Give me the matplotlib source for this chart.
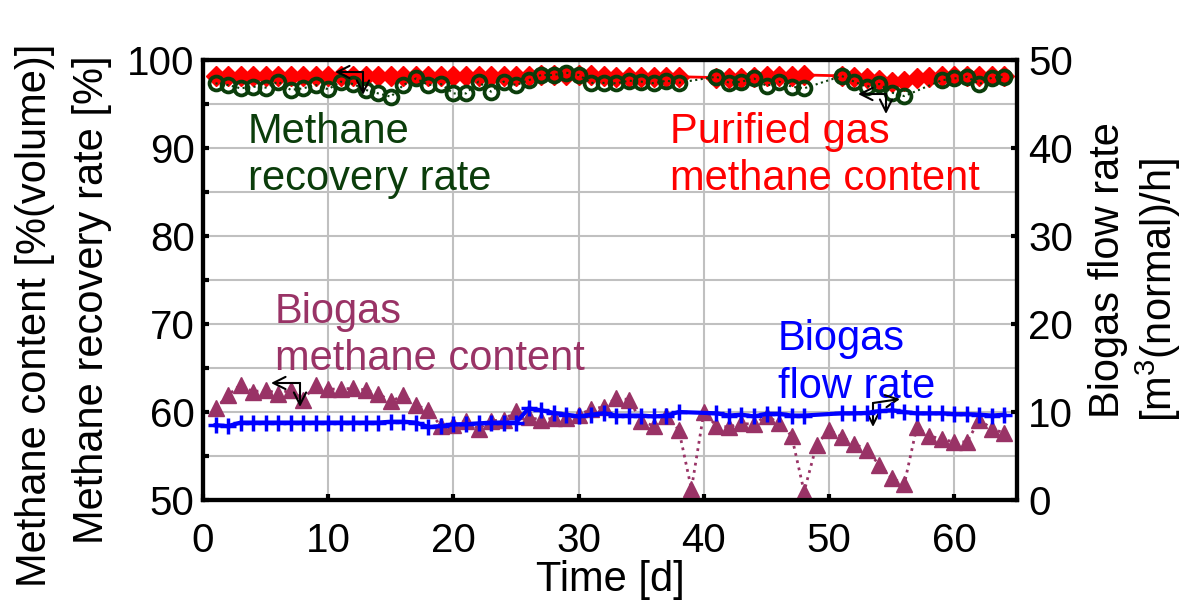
import matplotlib
matplotlib.use("Agg")
import matplotlib.pyplot as plt
from matplotlib.ticker import MultipleLocator
import numpy as np

plt.rcParams['font.family'] = ['Liberation Sans', 'DejaVu Sans']
plt.rcParams['mathtext.fontset'] = 'custom'
plt.rcParams['mathtext.rm'] = 'Liberation Sans'
plt.rcParams['mathtext.it'] = 'Liberation Sans'
plt.rcParams['mathtext.bf'] = 'Liberation Sans'

# ---------------- data ----------------
purified_days = list(range(1, 39)) + list(range(41, 49)) + list(range(51, 65))
purified_ch4 = ([98.2] * 26 + [98.3, 98.3, 98.3, 98.3, 98.3] + [98.2] +
                [98.1] * 6 +
                [98.0, 98.0, 98.0, 98.1, 98.2, 98.2, 98.2, 98.3] +
                [98.2, 98.1, 97.9, 97.7, 97.5, 97.6, 97.9, 98.1, 98.2, 98.2, 98.2, 98.2, 98.2, 98.2])

recovery_days = list(range(1, 39)) + list(range(41, 49)) + list(range(51, 57)) + list(range(59, 65))
recovery_rate = [97.35, 97.16, 96.78, 96.97, 96.86, 97.54, 96.6, 96.78, 97.16, 96.67,
                 97.54, 97.27, 96.6, 96.2, 95.83, 97.16, 97.9, 97.16, 97.27, 96.2,
                 96.2, 97.54, 96.4, 97.54, 97.16, 97.7, 98.3, 98.3, 98.56, 98.3,
                 97.4, 97.4, 97.35, 97.65, 97.54, 97.35, 97.65, 97.42,
                 98.1, 97.42, 97.54, 97.9, 97.05, 97.54, 96.97, 96.78,
                 98.18, 97.54, 96.97, 97.27, 96.3, 95.9,
                 97.7, 97.9, 98.1, 97.27, 98.0, 98.1]

biogas_days = list(range(1, 65))
biogas_ch4 = [60.4, 61.9, 63.1, 62.3, 62.5, 62.1, 62.5, 61.4, 63.1, 62.6,
              62.6, 62.7, 62.5, 62.1, 61.2, 61.9, 60.8, 60.2, 58.4, 58.5,
              59.0, 58.1, 59.0, 59.1, 60.1, 59.4, 59.1, 59.3, 59.3, 59.7,
              60.3, 60.6, 61.6, 61.4, 59.0, 58.4, 59.6, 57.95, 51.25, 60.0,
              58.4, 58.3, 58.7, 58.6, 59.6, 58.7, 57.3, 50.95, 56.3, 57.95,
              57.2, 56.4, 55.7, 54.0, 52.5, 51.8, 58.3, 57.3, 56.9, 56.6,
              56.6, 59.1, 58.1, 57.6]

flow_days = list(range(1, 39)) + list(range(41, 49)) + list(range(51, 65))
flow_rate = [8.5, 8.4, 8.8, 8.8, 8.8, 8.8, 8.8, 8.8, 8.8, 8.8,
             8.8, 8.8, 8.8, 8.8, 8.9, 8.9, 8.8, 8.3, 8.4, 8.6,
             8.6, 8.7, 8.8, 8.8, 8.8, 10.4, 10.2, 9.9, 9.7, 9.5,
             9.7, 9.85, 9.6, 9.6, 9.6, 9.5, 9.6, 10.0,
             9.85, 9.6, 9.7, 9.5, 9.8, 9.8, 9.6, 9.6,
             9.85, 9.85, 9.9, 10.1, 10.2, 10.0, 9.85, 9.85, 9.85, 9.75,
             9.75, 9.7, 9.6, 9.7]

x_ticks = [0, 10, 20, 30, 40, 50, 60]
left_ticks = [50, 60, 70, 80, 90, 100]
right_ticks = [0, 10, 20, 30, 40, 50]

# ---------------- colours ----------------
RED = '#ff0000'
GREEN = '#0b3d0b'
PURPLE = '#993366'
BLUE = '#0000ff'
FS = 30

W, H = 1183, 602
fig = plt.figure(figsize=(W / 100, H / 100), dpi=100)
L, R, T, B = 203, 1017, 60, 500
ax = fig.add_axes([L / W, 1 - B / H, (R - L) / W, (B - T) / H])
ax2 = ax.twinx()

ax.set_xlim(0, 65)
ax.set_ylim(50, 100)
ax2.set_ylim(0, 50)

ax.set_xticks(x_ticks)
ax.set_yticks(left_ticks)
ax.yaxis.set_minor_locator(MultipleLocator(5))
ax2.set_yticks(right_ticks)

ax.grid(True, which='major', axis='x', color='#c0c0c0', lw=1.5)
ax.grid(True, which='both', axis='y', color='#c0c0c0', lw=1.5)
ax.set_axisbelow(True)

for a in (ax, ax2):
    for s in a.spines.values():
        s.set_linewidth(3)
        s.set_color('black')
ax.tick_params(which='both', direction='in', length=4, width=3, labelsize=29, pad=6)
ax.tick_params(axis='x', pad=16)
ax2.tick_params(which='both', direction='in', length=4, width=3, labelsize=29, pad=8)

# series
ax.plot(purified_days, purified_ch4, color=RED, lw=2, marker='D', ms=10.5,
        mec=RED, mfc=RED, zorder=3)
ax.plot(recovery_days, recovery_rate, color=GREEN, lw=1.5, ls=':', marker='o', ms=10,
        mec=GREEN, mfc='none', mew=2.7, zorder=4)
ax.plot(biogas_days, biogas_ch4, color=PURPLE, lw=2, ls=':', marker='^', ms=12,
        mec=PURPLE, mfc=PURPLE, zorder=3)
ax2.plot(flow_days, flow_rate, color=BLUE, lw=3, marker='+', ms=12, mew=2.5, zorder=5)

ax.set_xlabel('Time [d]', fontsize=FS, labelpad=0)


def dx(px):
    return (px - L) / ((R - L) / 65)


def dy(py):
    return 50 + (B - py) / ((B - T) / 50)


# annotations text
ax.text(dx(248), dy(143), 'Methane', color=GREEN, fontsize=FS, ha='left', va='baseline')
ax.text(dx(248), dy(190), 'recovery rate', color=GREEN, fontsize=FS, ha='left', va='baseline')
ax.text(dx(670), dy(143), 'Purified gas', color=RED, fontsize=FS, ha='left', va='baseline')
ax.text(dx(670), dy(190), 'methane content', color=RED, fontsize=FS, ha='left', va='baseline')
ax.text(dx(275), dy(323), 'Biogas', color=PURPLE, fontsize=FS, ha='left', va='baseline')
ax.text(dx(275), dy(370), 'methane content', color=PURPLE, fontsize=FS, ha='left', va='baseline')
ax.text(dx(778), dy(350), 'Biogas', color=BLUE, fontsize=FS, ha='left', va='baseline')
ax.text(dx(778), dy(398), 'flow rate', color=BLUE, fontsize=FS, ha='left', va='baseline')

arrows = [
    ((363, 72), (335, 72)), ((363, 72), (363, 95)),
    ((886, 94), (858, 94)), ((886, 94), (886, 114)),
    ((300, 383), (271, 383)), ((300, 383), (300, 407)),
    ((873, 403), (873, 427)), ((873, 403), (900, 399)),
]
for (c, t) in arrows:
    ax.annotate('', xy=(dx(t[0]), dy(t[1])), xytext=(dx(c[0]), dy(c[1])),
                arrowprops=dict(arrowstyle='->', lw=1.5, color='black',
                                shrinkA=0, shrinkB=0, mutation_scale=22),
                zorder=6, annotation_clip=False)

# axis labels
fig.text(35 / W, 1 - 315 / H, 'Methane content [%(volume)]', rotation=90,
         fontsize=FS, ha='center', va='center')
fig.text(92 / W, 1 - 300 / H, 'Methane recovery rate [%]', rotation=90,
         fontsize=FS, ha='center', va='center')
fig.text(1108 / W, 1 - 270 / H, 'Biogas flow rate', rotation=90,
         fontsize=FS, ha='center', va='center')
fig.text(1158 / W, 1 - 290 / H, r'[m$^{\mathregular{3}}$(normal)/h]', rotation=90,
         fontsize=FS, ha='center', va='center')

fig.savefig('out.png', dpi=100)
